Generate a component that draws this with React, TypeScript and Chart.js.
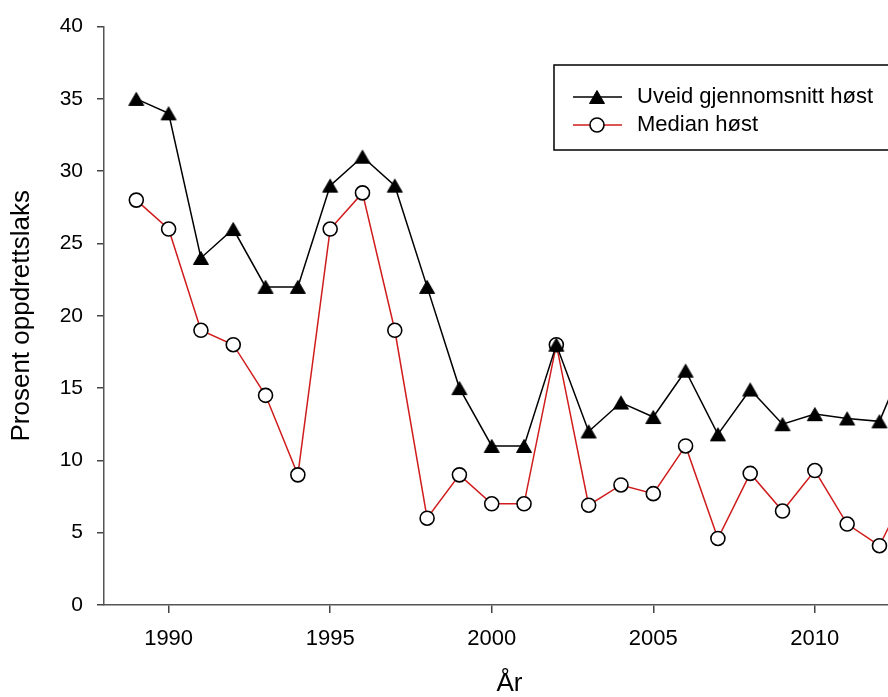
import React, { useEffect, useRef } from 'react';
import { Chart, registerables } from 'chart.js';

Chart.register(...registerables);

const years = [1989, 1990, 1991, 1992, 1993, 1994, 1995, 1996, 1997, 1998, 1999, 2000, 2001, 2002, 2003, 2004, 2005, 2006, 2007, 2008, 2009, 2010, 2011, 2012, 2013];
const uveidHost = [35, 34, 24, 26, 22, 22, 29, 31, 29, 22, 15, 11, 11, 18, 12, 14, 13, 16.2, 11.8, 14.9, 12.5, 13.2, 12.9, 12.7, 18];
const medianHost = [28, 26, 19, 18, 14.5, 9, 26, 28.5, 19, 6, 9, 7, 7, 18, 6.9, 8.3, 7.7, 11, 4.6, 9.1, 6.5, 9.3, 5.6, 4.1, 8.6];
const xTickValues = [1990, 1995, 2000, 2005, 2010];
const yTickValues = [0, 5, 10, 15, 20, 25, 30, 35, 40];
const seriesLabels = ['Uveid gjennomsnitt høst', 'Median høst'];

const FONT = "'Liberation Sans', Arial, Helvetica, sans-serif";
const RED = '#d01c1c';

function drawTriangle(ctx: CanvasRenderingContext2D, cx: number, cy: number) {
  // equilateral triangle, bounding box centred on (cx, cy)
  ctx.beginPath();
  ctx.moveTo(cx, cy - 6.5);
  ctx.lineTo(cx + 7.5, cy + 6.5);
  ctx.lineTo(cx - 7.5, cy + 6.5);
  ctx.closePath();
  ctx.fillStyle = '#000';
  ctx.fill();
  ctx.strokeStyle = '#000';
  ctx.lineWidth = 1;
  ctx.stroke();
}

function makeTriangleImage(): HTMLCanvasElement {
  const c = document.createElement('canvas');
  c.width = 18;
  c.height = 16;
  const ctx = c.getContext('2d')!;
  drawTriangle(ctx, 9, 8);
  return c;
}

const legendPlugin = {
  id: 'boxLegend',
  afterDraw(chart: any) {
    const ctx = chart.ctx as CanvasRenderingContext2D;
    ctx.save();
    ctx.strokeStyle = '#000';
    ctx.lineWidth = 1.5;
    ctx.strokeRect(554, 65, 345, 85);
    chart.data.datasets.forEach((ds: any, i: number) => {
      const y = 97 + i * 28;
      ctx.beginPath();
      ctx.strokeStyle = ds.borderColor;
      ctx.lineWidth = ds.borderWidth;
      ctx.moveTo(573, y);
      ctx.lineTo(622, y);
      ctx.stroke();
      const cx = 597;
      if (i === 0) {
        drawTriangle(ctx, cx, y);
      } else {
        ctx.beginPath();
        ctx.arc(cx, y, ds.pointRadius, 0, Math.PI * 2);
        ctx.fillStyle = ds.pointBackgroundColor;
        ctx.fill();
        ctx.strokeStyle = ds.pointBorderColor;
        ctx.lineWidth = ds.pointBorderWidth;
        ctx.stroke();
      }
      ctx.fillStyle = '#000';
      ctx.font = `22px ${FONT}`;
      ctx.textBaseline = 'middle';
      ctx.textAlign = 'left';
      ctx.fillText(ds.label, 637, y);
    });
    ctx.restore();
  },
};

export default function App() {
  const ref = useRef<HTMLCanvasElement | null>(null);

  useEffect(() => {
    if (!ref.current) return;
    Chart.defaults.font.family = FONT;
    const tri = makeTriangleImage();
    const chart = new Chart(ref.current, {
      type: 'line',
      data: {
        datasets: [
          {
            label: seriesLabels[0],
            data: years.map((x, i) => ({ x, y: uveidHost[i] })),
            borderColor: '#000',
            borderWidth: 1.5,
            pointStyle: tri,
            pointRadius: 8,
            pointHoverRadius: 8,
            pointBackgroundColor: '#000',
            pointBorderColor: '#000',
            pointBorderWidth: 1,
            tension: 0,
          },
          {
            label: seriesLabels[1],
            data: years.map((x, i) => ({ x, y: medianHost[i] })),
            borderColor: RED,
            borderWidth: 1.5,
            pointStyle: 'circle',
            pointRadius: 7,
            pointHoverRadius: 7,
            pointBackgroundColor: '#fff',
            pointBorderColor: '#000',
            pointBorderWidth: 1.6,
            tension: 0,
          },
        ],
      },
      options: {
        responsive: false,
        animation: false,
        events: [],
        layout: { padding: { top: 25, right: 15, left: 0, bottom: 0 } },
        plugins: { legend: { display: false }, tooltip: { enabled: false } },
        scales: {
          x: {
            type: 'linear',
            min: 1988,
            max: 2013.1,
            afterBuildTicks: (s: any) => {
              s.ticks = xTickValues.map((v) => ({ value: v }));
            },
            afterFit: (s: any) => {
              s.height = 92;
            },
            grid: { display: true, drawOnChartArea: false, drawTicks: true, tickLength: 8, color: '#444', lineWidth: 1.5 },
            border: { display: true, color: '#555', width: 1.5 },
            ticks: { color: '#000', font: { size: 22 }, padding: 13, callback: (v: any) => String(v) },
            title: { display: true, text: 'År', color: '#000', font: { size: 26, lineHeight: 1 }, padding: 0 },
          },
          y: {
            type: 'linear',
            min: 0,
            max: 40,
            afterBuildTicks: (s: any) => {
              s.ticks = yTickValues.map((v) => ({ value: v }));
            },
            afterFit: (s: any) => {
              s.width = 104;
            },
            grid: { display: true, drawOnChartArea: false, drawTicks: true, tickLength: 7, color: '#444', lineWidth: 1.5 },
            border: { display: true, color: '#555', width: 1.5 },
            ticks: { color: '#000', font: { size: 21 }, padding: 14, callback: (v: any) => String(v) },
            title: { display: true, text: 'Prosent oppdrettslaks', color: '#000', font: { size: 26 }, padding: { top: 6, bottom: 0 } },
          },
        },
      },
      plugins: [legendPlugin],
    } as any);
    return () => chart.destroy();
  }, []);

  return (
    <div style={{ position: 'fixed', left: 0, top: 0, width: 888, height: 697, overflow: 'hidden', background: '#fff' }}>
      <canvas ref={ref} width={930} height={697} style={{ display: 'block' }} />
    </div>
  );
}
